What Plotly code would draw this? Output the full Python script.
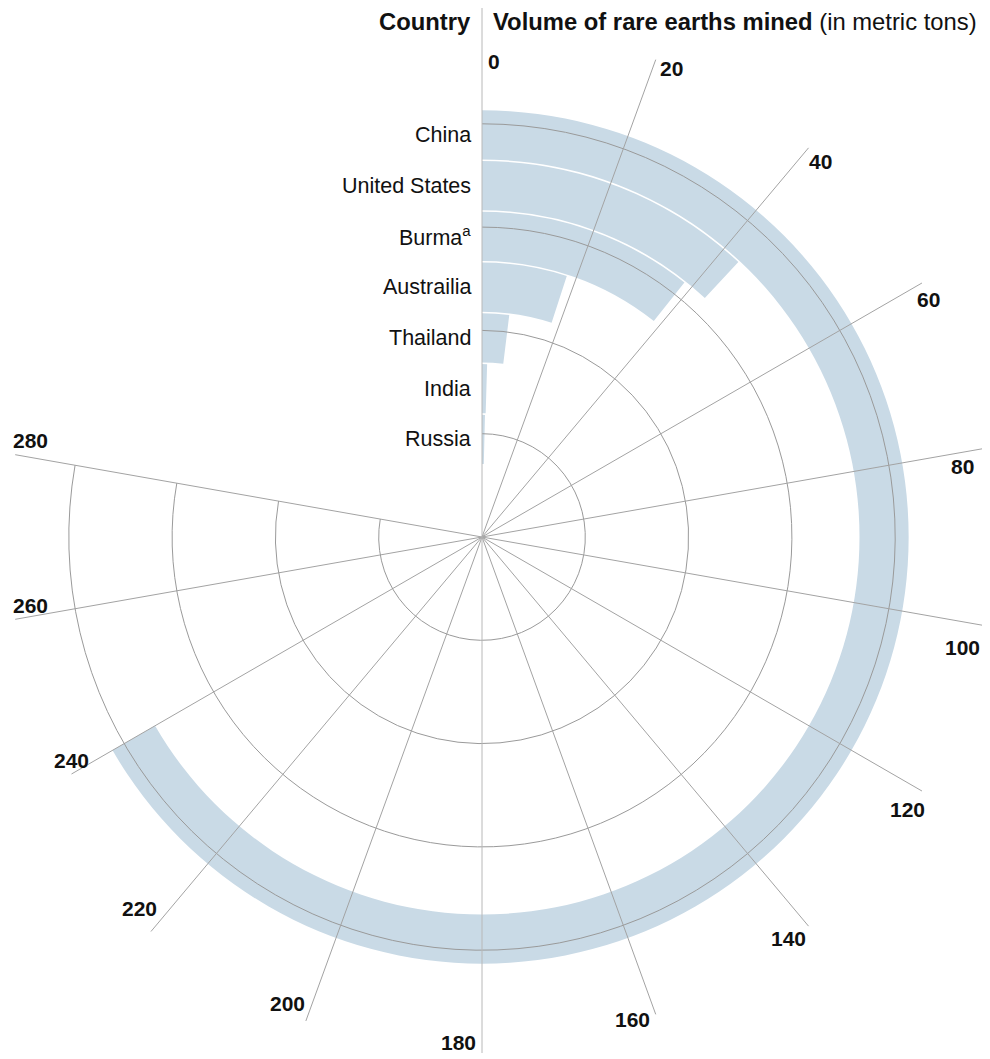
import math
import plotly.graph_objects as go

# ---------------- data ----------------
countries = ["China", "United States", "Burma<sup>a</sup>", "Austrailia", "Thailand", "India", "Russia"]
volumes = [240, 43, 38.5, 18, 7, 1.7, 1.4]
angular_ticks = [0, 20, 40, 60, 80, 100, 120, 140, 160, 180, 200, 220, 240, 260, 280]
header_left = "Country"
header_right_bold = "Volume of rare earths mined"
header_right_note = "(in metric tons)"

# ---------------- layout constants ----------------
PAGE_W, PAGE_H = 990, 1059
OFF = 8                        # default body margin of the html page
W, H = PAGE_W - OFF, PAGE_H - OFF
CX, CY = 482 - OFF, 537 - OFF  # centre of the polar area (figure px)
R_PX = CX                      # radius of the main polar area (px)
U = 103.3                      # px per radial grid step
RMAX = R_PX / U
BAND_IN = 73 / U
BAND_STEP = 50.75 / U
BAND_GAP = 1.6 / U
GRID_R = [1, 2, 3, 4]
BAR_COLOR = "#c9dae6"
GRID_COLOR = "#a3a3a3"
CIRCLE_COLOR = "#9a9a9a"
FONT = "Liberation Sans, Arial, sans-serif"
TXT = "#111111"

n = len(countries)
k_inner = [n - 1 - i for i in range(n)]             # China outermost
bases = [BAND_IN + k * BAND_STEP for k in k_inner]
thick = BAND_STEP - BAND_GAP
centres = [b + thick / 2 for b in bases]

common_ang = dict(rotation=90, direction="clockwise", thetaunit="degrees")


def to_abs(theta):
    """data angle (clockwise from top) -> absolute angle (ccw from east)"""
    return 90 - theta


def sector_domain(t0, t1, radius):
    """domain that puts the centre of a sector subplot on (CX, CY) with given radius"""
    s0, s1 = to_abs(t1), to_abs(t0)
    angs = [s0, s1] + [a for a in range(-360, 721, 90) if s0 <= a <= s1]
    xs = [math.cos(math.radians(a)) for a in angs] + [0]
    ys = [math.sin(math.radians(a)) for a in angs] + [0]
    x0, x1, y0, y1 = min(xs), max(xs), min(ys), max(ys)
    dx = [(CX + radius * x0) / W, (CX + radius * x1) / W]
    dy = [(H - CY + radius * y0) / H, (H - CY + radius * y1) / H]
    return dict(x=dx, y=dy), [s0, s1]


fig = go.Figure()

fig.add_trace(go.Barpolar(
    r=[thick] * n,
    base=bases,
    theta=[v / 2 for v in volumes],
    width=volumes,
    marker=dict(color=BAR_COLOR, line=dict(width=0)),
    subplot="polar",
    hovertemplate="%{customdata}: %{width}<extra></extra>",
    customdata=countries,
    showlegend=False,
))

# grid overlays: circles over the ticked sector, spokes reaching the page edges
main_dom, main_sec = sector_domain(0, angular_ticks[-1], R_PX)
right_dom, right_sec = sector_domain(0, 180, W - CX)
lowl_dom, lowl_sec = sector_domain(180, 240, 515)

spokes_main = [t for t in angular_ticks if t >= 240]
spokes_right = [t for t in angular_ticks if 0 < t < 180]
spokes_lowl = [t for t in angular_ticks if 180 < t < 240]

for sp in ["polar2", "polar3", "polar4"]:
    fig.add_trace(go.Scatterpolar(r=[0], theta=[0], mode="markers",
                                  marker=dict(opacity=0, size=1), subplot=sp,
                                  hoverinfo="skip", showlegend=False))


def grid_polar(dom, sec, spokes, circles):
    return dict(
        domain=dom, sector=sec, bgcolor="rgba(0,0,0,0)",
        angularaxis=dict(**common_ang, tickmode="array", tickvals=spokes,
                         showgrid=True, gridcolor=GRID_COLOR, gridwidth=1,
                         showticklabels=False, showline=False, ticks=""),
        radialaxis=dict(range=[0, RMAX], tickmode="array", tickvals=circles,
                        showgrid=bool(circles), gridcolor=CIRCLE_COLOR, gridwidth=1,
                        showticklabels=False, showline=False, ticks=""),
    )


annotations = []

# country labels, left of the 0-spoke, at the centre of each band
for name, c in zip(countries, centres):
    annotations.append(dict(
        xref="paper", yref="paper", x=(CX - 9) / W, y=1 - (CY - c * U) / H,
        xanchor="right", yanchor="middle", showarrow=False,
        text=name, font=dict(family=FONT, size=21.5, color=TXT)))

# angular tick labels next to the end of each spoke
R_LAB = 505
X_MIN, X_MAX, Y_MIN, Y_MAX = 30 - OFF, 962 - OFF, 61 - OFF, 1045 - OFF
LIFT = 14
for t in angular_ticks:
    label = str(t)
    a = math.radians(t)
    ux, uy = math.sin(a), -math.cos(a)
    vx, vy = -uy, ux
    if t in spokes_main:
        # short spokes near the left page edge: label just above the spoke end
        px = CX + R_PX * ux
        py = CY + R_PX * uy - LIFT
    else:
        perp = 6 + 5.8 * len(label)
        px = CX + R_LAB * ux + perp * vx
        py = CY + R_LAB * uy + perp * vy
    px = min(max(px, X_MIN), X_MAX)
    py = min(max(py, Y_MIN), Y_MAX)
    annotations.append(dict(
        xref="paper", yref="paper", x=px / W, y=1 - py / H,
        xanchor="center", yanchor="middle", showarrow=False,
        text=label, font=dict(family=FONT, size=21, color=TXT, weight="bold")))

annotations += [
    dict(xref="paper", yref="paper", x=(473 - OFF) / W, y=1 - (22 - OFF) / H,
         xanchor="right", yanchor="middle", showarrow=False,
         text="<b>" + header_left + "</b>",
         font=dict(family=FONT, size=23.8, color=TXT)),
    dict(xref="paper", yref="paper", x=(491 - OFF) / W, y=1 - (22 - OFF) / H,
         xanchor="left", yanchor="middle", showarrow=False,
         text="<b>" + header_right_bold + "</b> " + header_right_note,
         font=dict(family=FONT, size=23.8, color=TXT)),
]

full_dom = dict(x=[0, 2 * R_PX / W], y=[(H - CY - R_PX) / H, (H - CY + R_PX) / H])

fig.update_layout(
    width=W, height=H,
    margin=dict(l=0, r=0, t=0, b=0),
    paper_bgcolor="white",
    font=dict(family=FONT, color=TXT),
    polar=dict(
        domain=full_dom,
        bgcolor="rgba(0,0,0,0)",
        angularaxis=dict(**common_ang, showgrid=False, showticklabels=False,
                         showline=False, ticks=""),
        radialaxis=dict(range=[0, RMAX], showgrid=False, showline=False,
                        showticklabels=False, ticks=""),
    ),
    polar2=grid_polar(main_dom, main_sec, spokes_main, GRID_R),
    polar3=grid_polar(right_dom, right_sec, spokes_right, []),
    polar4=grid_polar(lowl_dom, lowl_sec, spokes_lowl, []),
    shapes=[dict(type="line", xref="paper", yref="paper",
                 x0=CX / W, x1=CX / W, y0=1 - (8 - OFF) / H, y1=1 - (1053 - OFF) / H,
                 line=dict(color="#b8b8b8", width=1), layer="above")],
    annotations=annotations,
)

fig.write_html("out.html")
